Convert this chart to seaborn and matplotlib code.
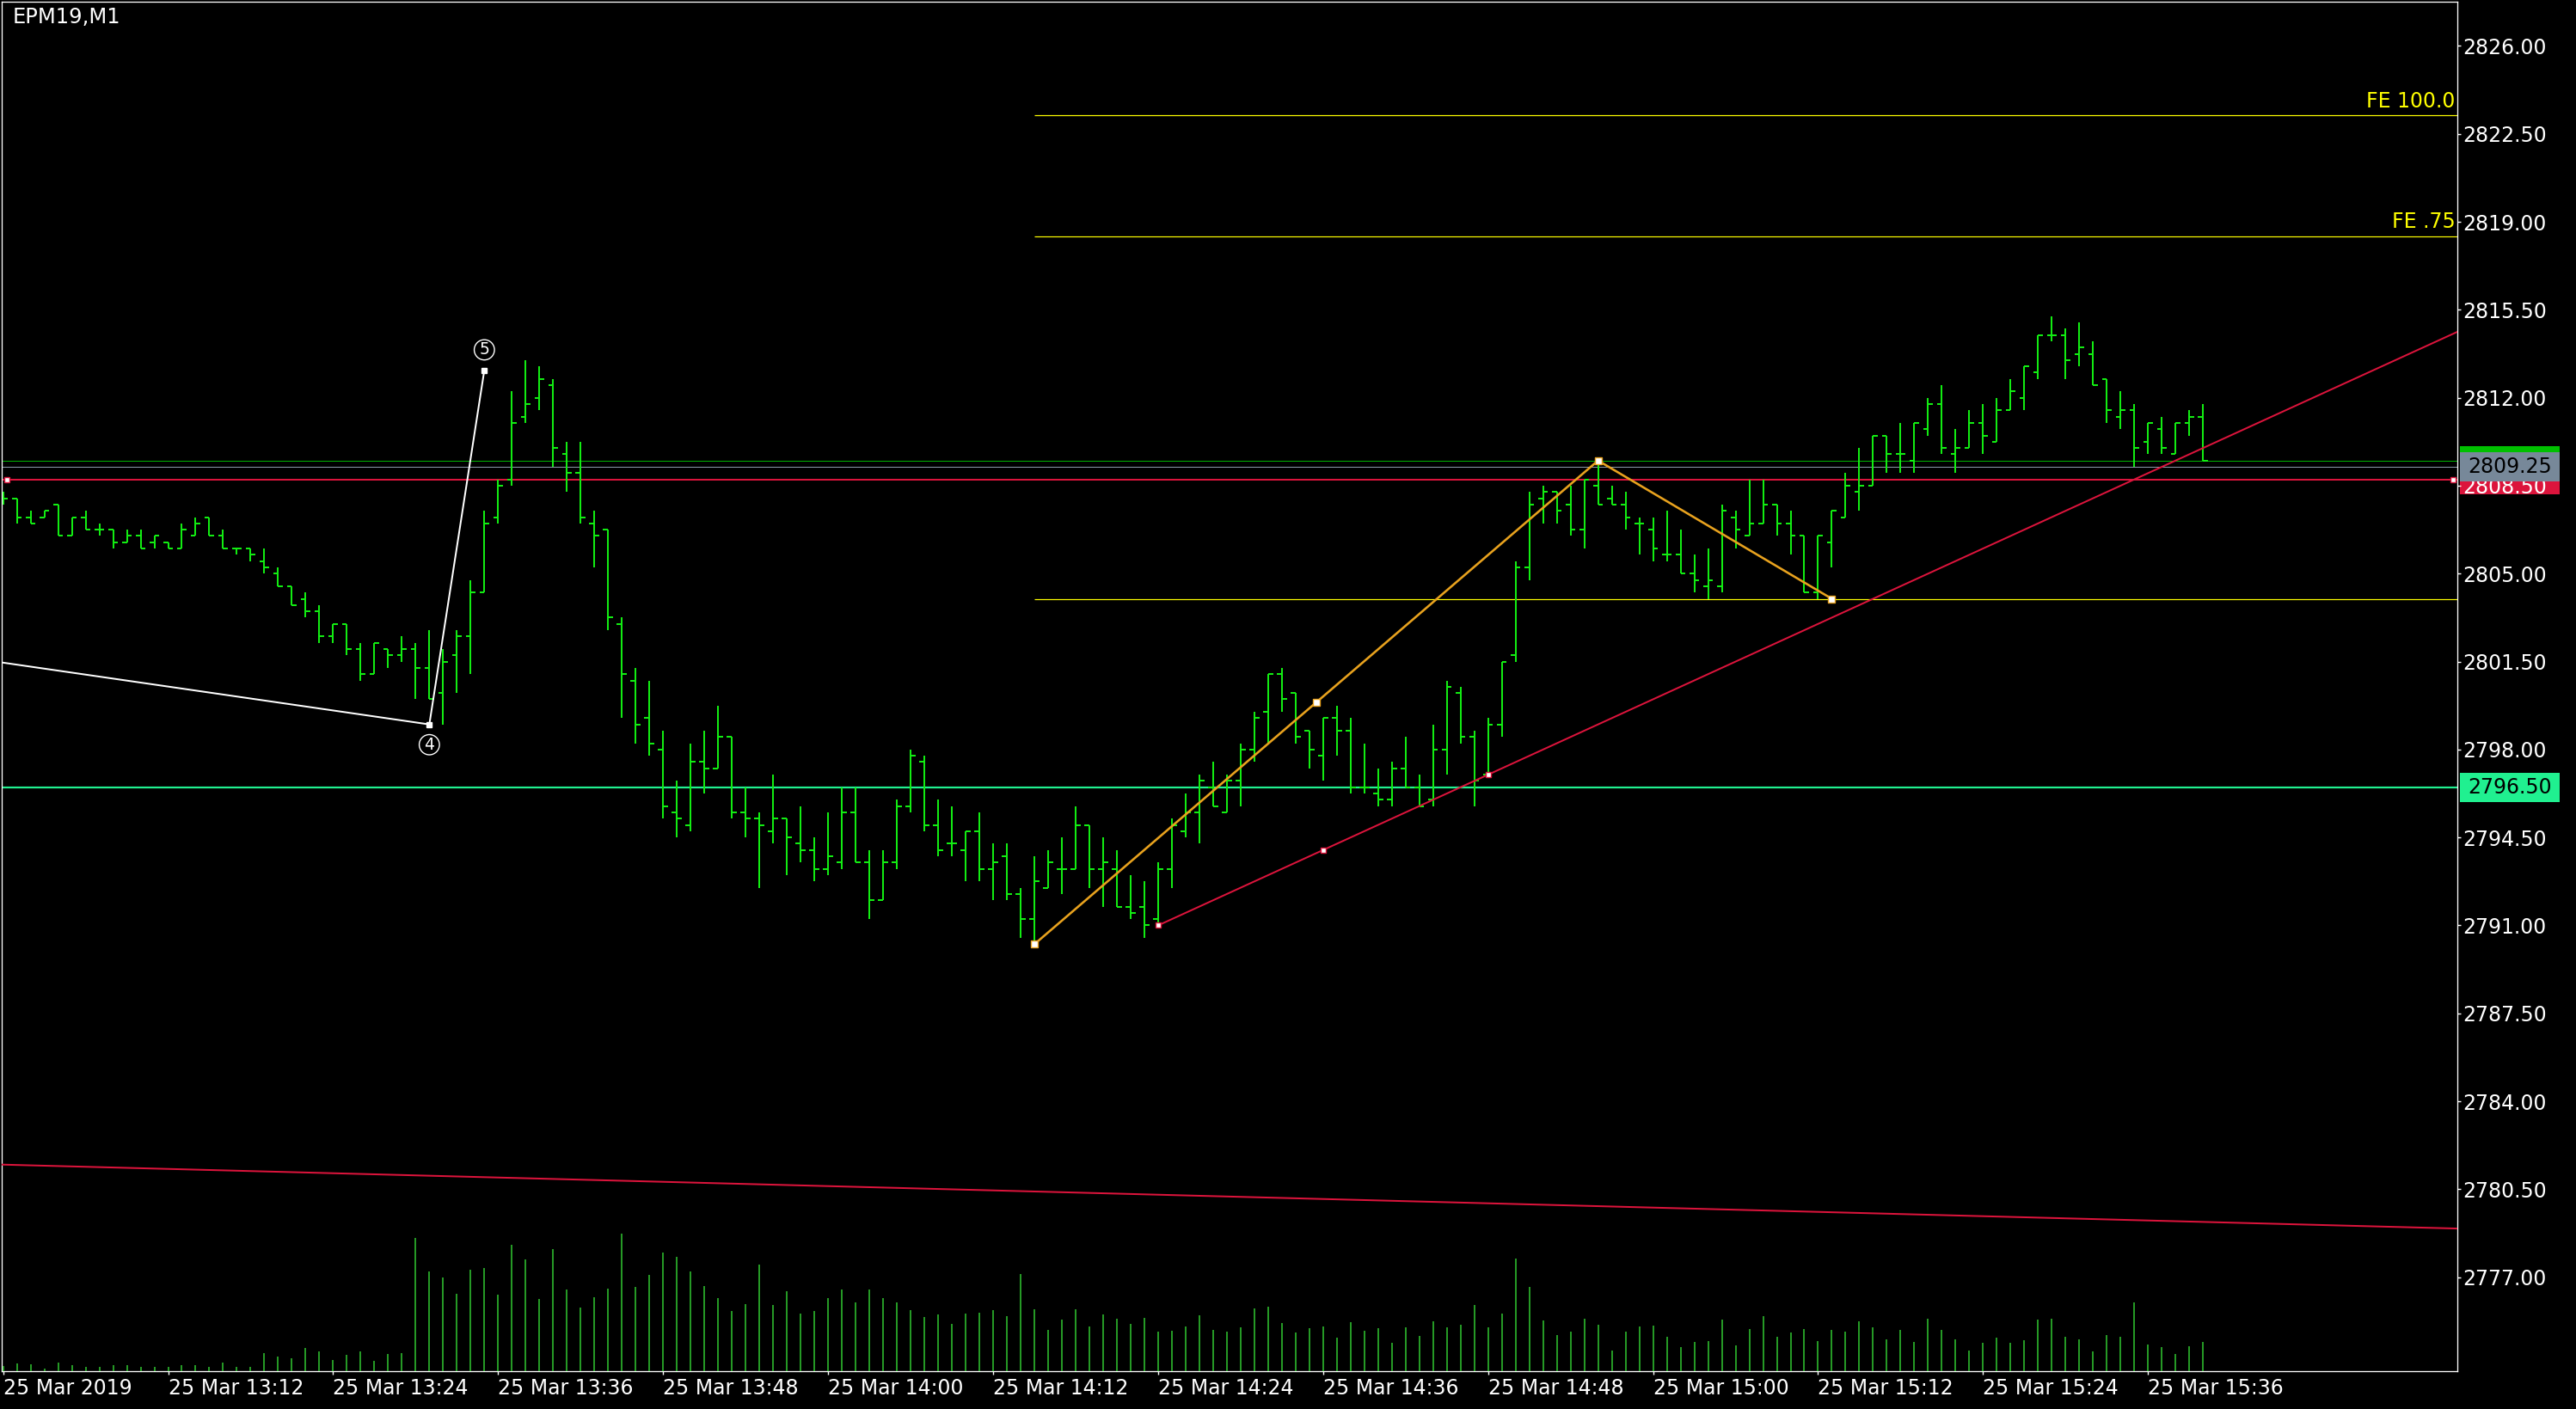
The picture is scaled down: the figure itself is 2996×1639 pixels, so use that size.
import matplotlib
matplotlib.use("Agg")
import matplotlib.pyplot as plt
import matplotlib.transforms as mtransforms
from matplotlib.patches import Rectangle
import numpy as np
import seaborn as sns

# bar index = minutes after 25 Mar 2019 13:00 (EPM19, M1)
opens = [
    2808.0, 2808.0, 2807.25, 2807.25, 2807.75, 2806.5, 2807.25, 2806.75, 2806.75, 2806.25,
    2806.5, 2806.25, 2806.25, 2806.0, 2806.5, 2807.25, 2806.5, 2806.0, 2806.0, 2805.5,
    2805.0, 2804.5, 2804.0, 2803.5, 2802.5, 2803.0, 2802.0, 2801.0, 2802.0, 2801.75,
    2802.0, 2801.25, 2800.25, 2801.75, 2802.5, 2804.25, 2807.25, 2808.75, 2811.25, 2812.0,
    2812.5, 2809.75, 2809.0, 2807.0, 2806.75, 2803.0, 2800.75, 2799.25, 2798.0, 2795.5,
    2795.0, 2797.5, 2797.25, 2798.5, 2795.5, 2795.25, 2794.75, 2795.25, 2794.25, 2794.0,
    2793.25, 2793.5, 2795.5, 2793.5, 2792.0, 2793.5, 2795.75, 2797.5, 2795.0, 2794.25,
    2794.0, 2794.75, 2793.25, 2793.75, 2792.25, 2791.25, 2792.5, 2793.25, 2793.25, 2795.0,
    2793.25, 2793.25, 2791.75, 2791.75, 2791.25, 2793.25, 2794.75, 2795.5, 2796.5, 2795.5,
    2796.75, 2798.0, 2799.5, 2801.0, 2800.25, 2798.75, 2797.75, 2799.25, 2798.75, 2796.5,
    2796.25, 2796.0, 2797.25, 2796.5, 2796.0, 2798.0, 2800.25, 2798.5, 2797.0, 2799.0,
    2801.75, 2805.25, 2808.0, 2808.25, 2807.75, 2806.75, 2808.5, 2808.0, 2807.75, 2807.0,
    2806.75, 2805.75, 2805.75, 2805.0, 2804.5, 2804.5, 2807.25, 2806.5, 2807.0, 2807.75,
    2807.0, 2806.5, 2804.25, 2806.25, 2807.25, 2808.25, 2808.5, 2810.5, 2809.75, 2809.5,
    2810.75, 2811.75, 2809.75, 2810.0, 2811.0, 2810.25, 2811.5, 2812.0, 2813.0, 2814.5,
    2814.5, 2813.75, 2813.75, 2812.75, 2811.25, 2811.5, 2810.25, 2810.75, 2809.75, 2811.0,
    2811.25]
highs = [
    2808.25, 2808.0, 2807.5, 2807.5, 2807.75, 2807.25, 2807.5, 2807.0, 2806.75, 2806.75,
    2806.75, 2806.5, 2806.25, 2807.0, 2807.25, 2807.25, 2806.75, 2806.0, 2806.0, 2806.0,
    2805.25, 2804.5, 2804.25, 2803.75, 2803.0, 2803.0, 2802.25, 2802.25, 2802.0, 2802.5,
    2802.25, 2802.75, 2802.0, 2802.75, 2804.75, 2807.5, 2808.75, 2812.25, 2813.5, 2813.25,
    2812.75, 2810.25, 2810.25, 2807.5, 2806.75, 2803.25, 2801.25, 2800.75, 2798.75, 2796.75,
    2798.25, 2798.75, 2799.75, 2798.5, 2796.5, 2795.5, 2797.0, 2795.25, 2795.75, 2794.5,
    2795.5, 2796.5, 2796.5, 2794.0, 2794.0, 2796.0, 2798.0, 2797.75, 2796.0, 2795.75,
    2794.75, 2795.5, 2794.25, 2794.25, 2792.5, 2793.75, 2794.0, 2794.5, 2795.75, 2795.0,
    2794.5, 2794.0, 2793.0, 2792.75, 2793.5, 2795.25, 2796.25, 2797.0, 2797.5, 2797.0,
    2798.25, 2799.5, 2801.0, 2801.25, 2800.25, 2798.75, 2799.25, 2799.75, 2799.25, 2798.25,
    2797.25, 2797.5, 2798.5, 2797.0, 2799.0, 2800.75, 2800.5, 2798.75, 2799.25, 2801.5,
    2805.5, 2808.25, 2808.5, 2808.25, 2808.5, 2808.75, 2809.5, 2808.5, 2808.25, 2807.25,
    2807.25, 2807.5, 2806.75, 2805.75, 2806.0, 2807.75, 2807.5, 2808.75, 2808.75, 2807.75,
    2807.5, 2806.5, 2806.5, 2807.5, 2809.0, 2810.0, 2810.5, 2810.5, 2811.0, 2811.0,
    2812.0, 2812.5, 2810.75, 2811.5, 2811.75, 2812.0, 2812.75, 2813.25, 2814.5, 2815.25,
    2814.75, 2815.0, 2814.25, 2812.75, 2812.25, 2811.75, 2811.0, 2811.25, 2811.0, 2811.5,
    2811.75]
lows = [
    2807.75, 2807.0, 2807.0, 2807.25, 2806.5, 2806.5, 2806.75, 2806.5, 2806.0, 2806.25,
    2806.0, 2806.0, 2806.0, 2806.0, 2806.5, 2806.5, 2806.0, 2805.75, 2805.5, 2805.0,
    2804.5, 2803.75, 2803.25, 2802.25, 2802.25, 2801.75, 2800.75, 2801.0, 2801.25, 2801.5,
    2800.0, 2800.0, 2799.0, 2800.25, 2801.0, 2804.25, 2807.0, 2808.5, 2811.0, 2811.5,
    2809.25, 2808.25, 2807.0, 2805.25, 2802.75, 2799.25, 2798.25, 2797.75, 2795.25, 2794.5,
    2794.75, 2796.25, 2797.25, 2795.25, 2794.5, 2792.5, 2794.25, 2793.0, 2793.5, 2792.75,
    2793.0, 2793.25, 2793.5, 2791.25, 2792.0, 2793.25, 2795.5, 2794.75, 2793.75, 2793.75,
    2792.75, 2792.75, 2792.0, 2792.0, 2790.5, 2790.25, 2792.5, 2792.25, 2793.25, 2792.5,
    2791.75, 2791.75, 2791.25, 2790.5, 2791.0, 2792.5, 2794.5, 2794.25, 2795.75, 2795.5,
    2795.75, 2797.5, 2798.25, 2799.5, 2798.25, 2797.25, 2796.75, 2797.75, 2796.25, 2796.25,
    2795.75, 2795.75, 2796.5, 2795.75, 2795.75, 2797.0, 2798.25, 2795.75, 2797.0, 2798.5,
    2801.5, 2804.75, 2807.0, 2807.0, 2806.5, 2806.0, 2807.75, 2807.75, 2806.75, 2805.75,
    2805.5, 2805.5, 2805.0, 2804.25, 2804.0, 2804.25, 2806.0, 2806.5, 2807.0, 2806.5,
    2805.75, 2804.25, 2804.0, 2805.25, 2807.25, 2807.5, 2808.5, 2809.0, 2809.0, 2809.0,
    2810.5, 2809.75, 2809.0, 2810.0, 2809.75, 2810.25, 2811.5, 2811.5, 2812.75, 2814.25,
    2812.75, 2813.25, 2812.5, 2811.0, 2810.75, 2809.25, 2809.75, 2809.75, 2809.75, 2810.5,
    2809.5]
closes = [
    2808.0, 2807.25, 2807.0, 2807.5, 2806.5, 2807.25, 2806.75, 2806.75, 2806.25, 2806.5,
    2806.0, 2806.5, 2806.0, 2806.75, 2807.0, 2806.5, 2806.0, 2806.0, 2805.75, 2805.25,
    2804.5, 2803.75, 2803.5, 2802.5, 2803.0, 2802.0, 2801.0, 2802.25, 2801.75, 2802.0,
    2801.25, 2800.0, 2801.5, 2802.5, 2804.25, 2807.0, 2808.5, 2811.0, 2811.75, 2812.75,
    2810.0, 2809.0, 2807.25, 2806.5, 2803.25, 2801.0, 2799.0, 2798.25, 2795.75, 2795.25,
    2797.5, 2797.25, 2798.5, 2795.5, 2795.25, 2795.0, 2795.25, 2794.5, 2794.0, 2793.25,
    2793.75, 2795.5, 2793.5, 2792.0, 2793.5, 2795.75, 2797.75, 2795.0, 2794.0, 2794.25,
    2794.75, 2793.25, 2793.5, 2792.25, 2791.25, 2792.75, 2793.5, 2793.25, 2795.0, 2793.25,
    2793.5, 2791.75, 2791.5, 2791.0, 2793.25, 2795.0, 2795.5, 2796.75, 2795.75, 2796.75,
    2798.0, 2799.25, 2801.0, 2800.0, 2798.5, 2798.0, 2799.25, 2798.75, 2796.5, 2796.5,
    2796.0, 2797.25, 2796.5, 2795.75, 2798.0, 2800.5, 2798.5, 2796.75, 2799.0, 2801.5,
    2805.25, 2807.75, 2808.25, 2807.5, 2806.75, 2808.75, 2807.75, 2807.75, 2807.25, 2807.0,
    2806.0, 2805.75, 2805.0, 2804.75, 2804.75, 2807.5, 2806.75, 2807.0, 2807.75, 2807.0,
    2806.5, 2804.25, 2806.5, 2807.5, 2808.5, 2808.5, 2810.5, 2809.75, 2809.75, 2811.0,
    2811.75, 2810.0, 2810.0, 2811.0, 2810.5, 2811.5, 2812.25, 2813.25, 2814.5, 2814.5,
    2813.5, 2814.0, 2812.5, 2811.5, 2811.5, 2810.0, 2811.0, 2810.0, 2811.0, 2811.25,
    2809.5]
volumes = [
    6, 9, 8, 3, 10, 7, 5, 5, 7, 7,
    5, 5, 5, 7, 7, 5, 10, 5, 5, 21,
    17, 15, 27, 23, 13, 19, 23, 12, 20, 21,
    155, 116, 109, 90, 118, 120, 89, 147, 130, 84,
    142, 95, 74, 86, 96, 160, 98, 112, 138, 133,
    116, 99, 85, 70, 78, 124, 77, 93, 67, 70,
    85, 95, 80, 95, 85, 80, 71, 63, 66, 55,
    67, 68, 71, 64, 113, 72, 48, 60, 72, 52,
    66, 61, 55, 62, 46, 47, 52, 65, 48, 46,
    51, 73, 75, 56, 45, 50, 52, 39, 57, 47,
    50, 33, 51, 41, 58, 51, 54, 77, 51, 67,
    131, 98, 59, 42, 46, 61, 54, 24, 46, 52,
    53, 40, 28, 34, 35, 60, 30, 49, 64, 40,
    45, 49, 35, 48, 46, 58, 51, 37, 48, 34,
    61, 48, 37, 24, 33, 39, 33, 36, 60, 61,
    40, 37, 23, 42, 40, 80, 31, 28, 20, 29,
    34]

tick_minutes = [0, 12, 24, 36, 48, 60, 72, 84, 96, 108, 120, 132, 144, 156]
tick_labels = ["25 Mar 2019", "25 Mar 13:12", "25 Mar 13:24", "25 Mar 13:36",
               "25 Mar 13:48", "25 Mar 14:00", "25 Mar 14:12", "25 Mar 14:24",
               "25 Mar 14:36", "25 Mar 14:48", "25 Mar 15:00", "25 Mar 15:12",
               "25 Mar 15:24", "25 Mar 15:36"]
price_ticks = [2777.0, 2780.5, 2784.0, 2787.5, 2791.0, 2794.5, 2798.0, 2801.5,
               2805.0, 2808.5, 2812.0, 2815.5, 2819.0, 2822.5, 2826.0]

# objects drawn on the chart
zigzag_times = [75, 116, 133]          # fibo expansion A, B, C
zigzag_prices = [2790.25, 2809.5, 2804.0]
fe_ratios = [0.0, 0.75, 1.0]
fe_labels = ["", "FE .75", "FE 100.0"]
trend_times = [84, 108]                # rising red ray
trend_prices = [2791.0, 2797.0]
long_trend_times = [0, 160]            # slow falling red line
long_trend_prices = [2781.48, 2779.2]
wave_times = [-10, 31, 35]             # elliott wave (3 off screen), 4, 5
wave_prices = [2802.25, 2799.0, 2813.1]
wave_labels = ["", "4", "5"]
support_level = 2796.50
red_level = 2808.75
bid = 2809.25
ask = 2809.50

PX = 0.72  # points per pixel at dpi 100
x_left, x_right = -0.1, 178.5
y_low, y_high = 2773.26, 2827.76
rect = [0.00067, 0.02685, 0.9533, 0.9719]

sns.set_style("dark", {"axes.facecolor": "black", "figure.facecolor": "black",
                       "axes.edgecolor": "white", "text.color": "white",
                       "xtick.color": "white", "ytick.color": "white"})
plt.rcParams['font.family'] = ['DejaVu Sans']

fig = plt.figure(figsize=(29.96, 16.39), dpi=100, facecolor="black")
ax = fig.add_axes(rect)
ax.set_facecolor("black")
ax.set_axisbelow(True)

bar_c = "#12EC12"
x = np.arange(len(opens))
ax.vlines(x, lows, highs, color=bar_c, lw=2 * PX, zorder=2)
ax.hlines(opens, x - 0.36, x, color=bar_c, lw=2 * PX, zorder=2)
ax.hlines(closes, x, x + 0.36, color=bar_c, lw=2 * PX, zorder=2)

# horizontal levels
ax.axhline(ask, color="#00B400", lw=1 * PX, zorder=1.5)
ax.axhline(bid, color="#8C9AAA", lw=1 * PX, zorder=1.5)
ax.axhline(red_level, color="#DC143C", lw=2 * PX, zorder=1.6)
ax.plot([x_left + 0.4, x_right - 0.3], [red_level, red_level], ls="none", marker="s",
        ms=4, mfc="white", mec="#DC143C", mew=1, zorder=4)
ax.axhline(support_level, color="#20F090", lw=2.2 * PX, zorder=1.6)

# fibonacci expansion lines
fe_prices = [zigzag_prices[2] + r * (zigzag_prices[1] - zigzag_prices[0]) for r in fe_ratios]
ax.hlines(fe_prices, zigzag_times[0], x_right, color="#FFFF00", lw=1.2 * PX, zorder=1.7)
for p, lab in zip(fe_prices, fe_labels):
    if lab:
        ax.annotate(lab, xy=(x_right, p), xytext=(-2, 3), textcoords="offset points",
                    ha="right", va="bottom", color="#FFFF00", fontsize=17)

# red trend lines
slope = (trend_prices[1] - trend_prices[0]) / (trend_times[1] - trend_times[0])
ray_t = [trend_times[0], x_right]
ray_p = [trend_prices[0], trend_prices[0] + slope * (x_right - trend_times[0])]
sns.lineplot(x=ray_t, y=ray_p, ax=ax, color="#DC143C", lw=2 * PX, sort=False,
             estimator=None, zorder=3)
mid_t = (trend_times[0] + trend_times[1]) / 2
ax.plot([trend_times[0], mid_t, trend_times[1]],
        [trend_prices[0], (trend_prices[0] + trend_prices[1]) / 2, trend_prices[1]],
        ls="none", marker="s", ms=4.2, mfc="white", mec="#DC143C", mew=1, zorder=4)
ax.axline((long_trend_times[0], long_trend_prices[0]),
          (long_trend_times[1], long_trend_prices[1]), color="#DC143C", lw=2 * PX, zorder=3)

# orange zigzag A-B-C
orange = "#E8A21E"
sns.lineplot(x=zigzag_times, y=zigzag_prices, ax=ax, color=orange, lw=2.6 * PX,
             sort=False, estimator=None, zorder=3)
mark_t = [zigzag_times[0], (zigzag_times[0] + zigzag_times[1]) / 2] + zigzag_times[1:]
mark_p = [zigzag_prices[0], (zigzag_prices[0] + zigzag_prices[1]) / 2] + zigzag_prices[1:]
ax.plot(mark_t, mark_p, ls="none", marker="s", ms=5.8, mfc="white", mec=orange,
        mew=1, zorder=4)

# elliott wave
sns.lineplot(x=wave_times, y=wave_prices, ax=ax, color="white", lw=2 * PX,
             sort=False, estimator=None, zorder=3)
ax.plot(wave_times[1:], wave_prices[1:], ls="none", marker="s", ms=5, color="white", zorder=4)
for i, lab in enumerate(wave_labels):
    if not lab:
        continue
    dy = -17 if wave_prices[i] < wave_prices[i - 1] else 17
    ax.annotate(lab, xy=(wave_times[i], wave_prices[i]), xytext=(0, dy),
                textcoords="offset points", ha="center", va="center", color="white",
                fontsize=13.5,
                bbox=dict(boxstyle="circle,pad=0.12", fc="none", ec="white", lw=1))

# axes, ticks, frame
ax.set_xlim(x_left, x_right)
ax.set_ylim(y_low, y_high)
ax.yaxis.tick_right()
ax.set_yticks(price_ticks)
ax.set_yticklabels([f"{p:.2f}" for p in price_ticks])
ax.set_xticks(tick_minutes)
ax.set_xticklabels(tick_labels, ha="left")
ax.tick_params(axis="y", right=True, left=False, labelright=True, labelleft=False,
               direction="out", length=3, width=1,
               color="white", labelcolor="white", labelsize=17, pad=1.5)
ax.tick_params(axis="x", bottom=True, direction="out", length=3, width=1,
               color="white", labelcolor="white", labelsize=17, pad=3)
for s in ax.spines.values():
    s.set_color("white")
    s.set_linewidth(1.3 * PX)
ax.grid(False)
ax.set_xlabel("")
ax.set_ylabel("")
ax.annotate("EPM19,M1", xy=(0, 1), xycoords="axes fraction", xytext=(9, -4),
            textcoords="offset points", ha="left", va="top", color="white", fontsize=17.5)

# price boxes on the right scale
trans = mtransforms.blended_transform_factory(ax.transAxes, ax.transData)
box_h = 1.16
box_w = 0.0406
for level, colr, z in [(ask, "#00C000", 0.3), (red_level, "#DC143C", 0.3)]:
    ax.add_patch(Rectangle((1.001, level - box_h / 2), box_w, box_h, transform=trans,
                           facecolor=colr, edgecolor="none", clip_on=False, zorder=z))
for level, colr in [(bid, "#778899"), (support_level, "#20F090")]:
    ax.add_patch(Rectangle((1.001, level - box_h / 2), box_w, box_h, transform=trans,
                           facecolor=colr, edgecolor="none", clip_on=False, zorder=10))
    ax.text(1.0042, level, f"{level:.2f}", transform=trans, ha="left", va="center",
            color="black", fontsize=17, clip_on=False, zorder=11)

# tick volumes along the bottom, own scale on an overlay axes
ax2 = fig.add_axes(rect, sharex=ax)
ax2.vlines(x, 0, volumes, color="#32CD32", lw=1.5 * PX)
ax2.set_ylim(0, 1593)
ax2.set_xlim(x_left, x_right)
ax2.axis("off")

fig.savefig("out.png", dpi=100, facecolor="black")
